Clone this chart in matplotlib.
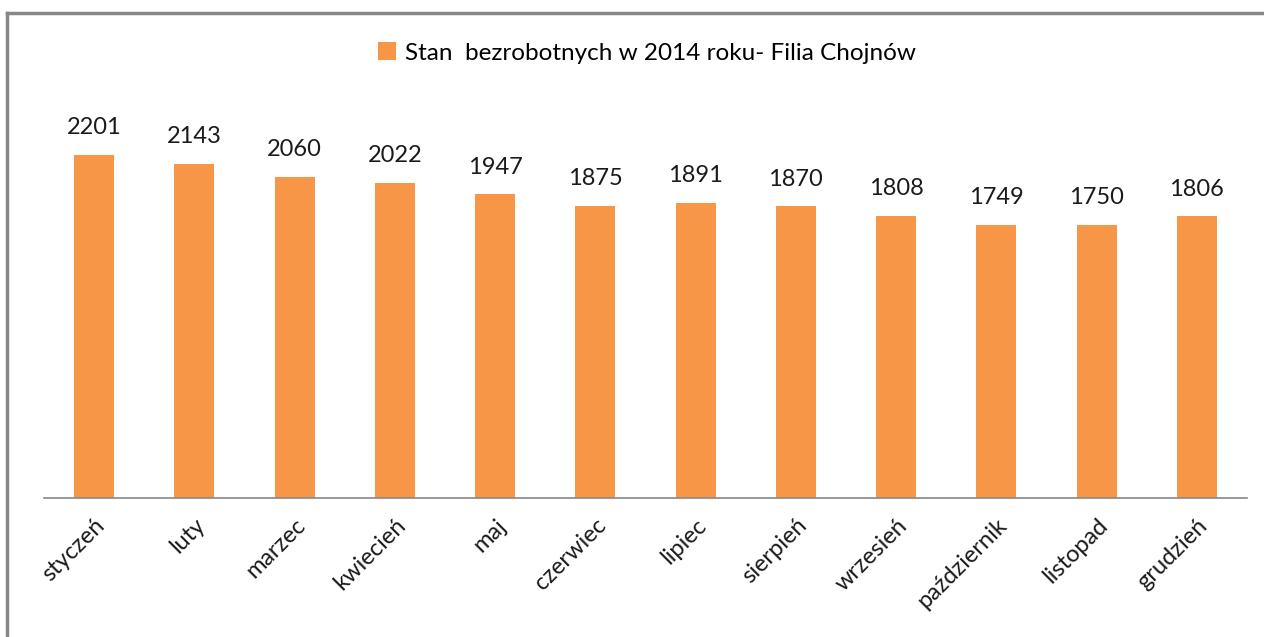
import matplotlib.pyplot as plt
from matplotlib.lines import Line2D
import numpy as np

months = ['styczeń', 'luty', 'marzec', 'kwiecień', 'maj', 'czerwiec',
          'lipiec', 'sierpień', 'wrzesień', 'październik', 'listopad', 'grudzień']
unemployed = [2201, 2143, 2060, 2022, 1947, 1875, 1891, 1870, 1808, 1749, 1750, 1806]
series_name = 'Stan  bezrobotnych w 2014 roku- Filia Chojnów'

plt.rcParams['font.family'] = ['Lato', 'DejaVu Sans']

W, H = 1264, 637
fig = plt.figure(figsize=(W / 100, H / 100), dpi=100)

# plot area in pixel terms
left, right, bottom, top = 44, 1247, 498, 108
ax = fig.add_axes([left / W, (H - bottom) / H, (right - left) / W, (bottom - top) / H])

x = np.arange(len(months))
bars = ax.bar(x, unemployed, width=0.4, color='#F79646', label=series_name)
for xi, v in zip(x, unemployed):
    ax.annotate(str(v), (xi, v), xytext=(0, 12), textcoords='offset points',
                ha='center', va='bottom', fontsize=17, color='#1a1a1a')

ax.set_xlim(-0.5, len(months) - 0.5)
ax.set_ylim(0, 2500)
ax.set_yticks([])
ax.set_xticks(x)
ax.set_xticklabels(months, rotation=45, ha='right', rotation_mode='anchor',
                   fontsize=17, color='#1a1a1a')
ax.tick_params(axis='x', length=0, pad=12)
for side in ['top', 'right', 'left']:
    ax.spines[side].set_visible(False)
ax.spines['bottom'].set_color('#888888')
ax.spines['bottom'].set_linewidth(1.2)

fig.legend(handles=[bars], labels=[series_name], loc='center',
           bbox_to_anchor=(647 / W, 1 - 53 / H), frameon=False, fontsize=17.5,
           handlelength=0.75, handleheight=0.75, handletextpad=0.35)

# chart frame (top and left edge visible)
fig.add_artist(Line2D([7 / W, 1], [1 - 13 / H, 1 - 13 / H], color='#888888', lw=2.5))
fig.add_artist(Line2D([7 / W, 7 / W], [0, 1 - 13 / H], color='#888888', lw=2.5))

fig.savefig('out.png', dpi=100)
